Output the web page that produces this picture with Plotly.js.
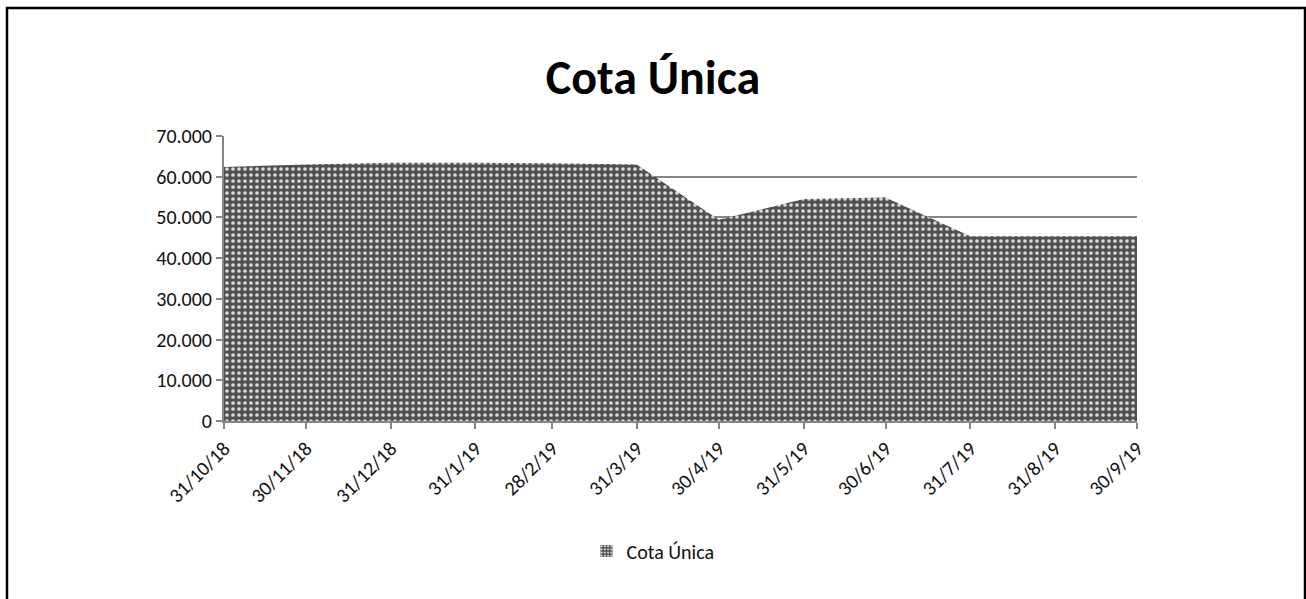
<!DOCTYPE html>
<html>
<head>
<meta charset="utf-8">
<script src="https://cdn.plot.ly/plotly-3.0.1.min.js"></script>
<style>
html,body{margin:0;padding:0;background:#fff;}
#chart{width:1306px;height:599px;}
</style>
</head>
<body>
<div id="chart"></div>
<script>
var dates = ['2018-10-31','2018-11-30','2018-12-31','2019-01-31','2019-02-28','2019-03-31','2019-04-30','2019-05-31','2019-06-30','2019-07-31','2019-08-31','2019-09-30'];
var tickLabels = ['31/10/18','30/11/18','31/12/18','31/1/19','28/2/19','31/3/19','30/4/19','31/5/19','30/6/19','31/7/19','31/8/19','30/9/19'];
var cotaUnica = [62400, 63000, 63400, 63400, 63300, 63000, 49400, 54500, 54900, 45400, 45400, 45400];
var seriesName = 'Cota Única';
var chartTitle = 'Cota Única';

var FONT = 'Carlito, Lato, sans-serif';
var PATTERN = {shape: '.', bgcolor: '#505050', fgcolor: '#d8d8d8', size: 6, solidity: 0.3};

var areaTrace = {
  x: dates,
  y: cotaUnica,
  type: 'scatter',
  mode: 'none',
  name: seriesName,
  fill: 'tozeroy',
  fillcolor: '#555555',
  fillpattern: PATTERN,
  line: {width: 0},
  showlegend: false,
  hoverinfo: 'x+y'
};

// legend-only swatch (square pattern key, like the original)
var legendTrace = {
  x: [dates[0]],
  y: [null],
  type: 'bar',
  name: seriesName,
  marker: {color: '#505050', line: {width: 0},
           pattern: {shape: '.', bgcolor: '#505050', fgcolor: '#d8d8d8', size: 4, solidity: 0.35}},
  showlegend: true,
  hoverinfo: 'skip'
};

var layout = {
  width: 1306,
  height: 599,
  paper_bgcolor: '#ffffff',
  plot_bgcolor: '#ffffff',
  separators: ',.',
  margin: {l: 224, r: 169, t: 136, b: 178},
  font: {family: FONT, color: '#111111', size: 20},
  title: {
    text: '<b>' + chartTitle + '</b>',
    font: {family: FONT, size: 48, color: '#000000'},
    xref: 'container', x: 0.5, xanchor: 'center',
    yref: 'container', y: 1 - 77/599, yanchor: 'middle'
  },
  xaxis: {
    type: 'date',
    range: [dates[0], dates[dates.length - 1]],
    tickmode: 'array',
    tickvals: dates,
    ticktext: tickLabels,
    tickangle: -45,
    showgrid: false,
    showline: true,
    linecolor: '#868686',
    linewidth: 2,
    ticks: 'outside',
    ticklen: 6,
    tickwidth: 2,
    tickcolor: '#868686',
    tickfont: {family: FONT, size: 20, color: '#111111'},
    zeroline: false,
    fixedrange: true
  },
  yaxis: {
    range: [0, 70000],
    tickmode: 'linear',
    tick0: 0,
    dtick: 10000,
    tickformat: ',d',
    showgrid: true,
    gridcolor: '#868686',
    gridwidth: 2,
    showline: true,
    linecolor: '#868686',
    linewidth: 2,
    ticks: 'outside',
    ticklen: 6,
    tickwidth: 2,
    tickcolor: '#868686',
    tickfont: {family: FONT, size: 20, color: '#111111'},
    zeroline: false,
    fixedrange: true
  },
  showlegend: true,
  legend: {
    orientation: 'h',
    xref: 'container', x: 0.5, xanchor: 'center',
    yref: 'container', y: 1 - 551/599, yanchor: 'middle',
    font: {family: FONT, size: 20, color: '#111111'},
    bgcolor: 'rgba(0,0,0,0)',
    itemwidth: 30
  },
  shapes: [{
    type: 'rect',
    xref: 'paper', yref: 'paper',
    x0: (7 - 224) / 913, x1: (1305 - 224) / 913,
    y0: (421 - 610) / 285, y1: (421 - 8) / 285,
    line: {color: '#000000', width: 2.5},
    fillcolor: 'rgba(0,0,0,0)',
    layer: 'above'
  }]
};

Plotly.newPlot('chart', [areaTrace, legendTrace], layout, {displayModeBar: false, staticPlot: true});
</script>
</body>
</html>
